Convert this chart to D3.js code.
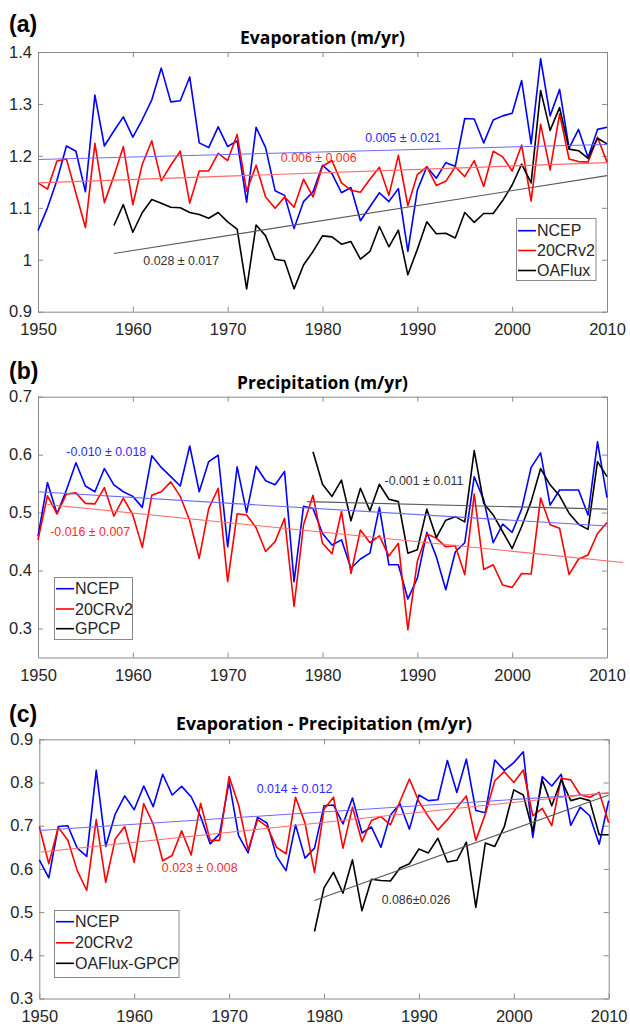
<!DOCTYPE html>
<html>
<head>
<meta charset="utf-8">
<script src="https://cdn.jsdelivr.net/npm/d3@7"></script>
<style>
  html, body { margin: 0; padding: 0; background: #fff; }
  svg { display: block; }
  .tick text { fill: #262626; }
</style>
</head>
<body>
<svg id="chart" width="630" height="1024"></svg>
<script>
// ---------------- DATA ----------------
const years = d3.range(1950, 2011);          // 1950..2010
const yearsOAFlux = d3.range(1958, 2011);    // 1958..2010
const yearsGPCP = d3.range(1979, 2011);      // 1979..2010
const xTicks = [1950, 1960, 1970, 1980, 1990, 2000, 2010];
const seriesNames = ["NCEP", "20CRv2"];

// (a) Evaporation (m/yr)
const evapNCEP = [1.056,1.10,1.153,1.219,1.209,1.131,1.317,1.219,1.248,1.275,
  1.236,1.27,1.308,1.369,1.304,1.306,1.352,1.225,1.216,1.256,
  1.218,1.229,1.111,1.255,1.216,1.133,1.124,1.06,1.112,1.131,
  1.182,1.166,1.129,1.139,1.075,1.102,1.129,1.112,1.137,1.016,
  1.134,1.179,1.157,1.187,1.18,1.272,1.271,1.225,1.269,1.277,
  1.282,1.345,1.223,1.387,1.277,1.328,1.215,1.251,1.197,1.251,1.255];
const evap20CR = [1.148,1.136,1.19,1.194,1.128,1.062,1.224,1.11,1.161,1.218,
  1.106,1.184,1.229,1.152,1.182,1.209,1.109,1.171,1.171,1.205,
  1.191,1.241,1.132,1.182,1.121,1.099,1.121,1.101,1.155,1.121,
  1.18,1.191,1.148,1.134,1.13,1.155,1.178,1.124,1.201,1.104,
  1.164,1.179,1.143,1.151,1.179,1.16,1.191,1.141,1.209,1.198,
  1.171,1.221,1.113,1.261,1.173,1.281,1.194,1.189,1.188,1.236,1.188];
const evapOAFlux = [1.066,1.106,1.053,1.091,1.116,1.109,1.101,1.1,1.091,1.087,
  1.08,1.091,1.073,1.059,0.944,1.067,1.046,1.001,0.998,0.944,
  0.99,1.016,1.046,1.044,1.03,1.035,1.001,1.016,1.064,1.025,
  1.057,0.971,1.02,1.073,1.05,1.051,1.042,1.091,1.072,1.089,
  1.089,1.114,1.144,1.184,1.148,1.326,1.249,1.293,1.213,1.21,
  1.195,1.234,1.223];
const evapTicks = [0.9, 1.0, 1.1, 1.2, 1.3, 1.4];
// trend lines: [startYear, startValue, endYear, endValue]
const evapTrendNCEP = [1950, 1.193, 2010, 1.222];
const evapTrend20CR = [1950, 1.148, 2010, 1.187];
const evapTrendOAFlux = [1958, 1.012, 2010, 1.162];
const evapTrendLabels = ["0.005 \u00b1 0.021", "0.006 \u00b1 0.006", "0.028 \u00b1 0.017"];

// (b) Precipitation (m/yr)
const precipNCEP = [0.459,0.552,0.498,0.539,0.586,0.546,0.536,0.576,0.548,0.536,
  0.528,0.509,0.598,0.578,0.562,0.546,0.615,0.536,0.588,0.599,
  0.441,0.579,0.5,0.58,0.555,0.548,0.571,0.381,0.511,0.507,
  0.464,0.444,0.453,0.404,0.42,0.43,0.509,0.41,0.41,0.351,
  0.387,0.466,0.424,0.367,0.432,0.448,0.562,0.522,0.448,0.48,
  0.466,0.506,0.578,0.603,0.513,0.539,0.539,0.539,0.496,0.622,0.526];
const precip20CR = [0.453,0.529,0.498,0.532,0.534,0.516,0.515,0.543,0.494,0.525,
  0.496,0.44,0.53,0.536,0.553,0.528,0.486,0.421,0.507,0.542,
  0.381,0.498,0.496,0.474,0.433,0.45,0.49,0.338,0.479,0.53,
  0.447,0.429,0.502,0.395,0.47,0.448,0.46,0.425,0.447,0.298,
  0.416,0.463,0.456,0.441,0.443,0.393,0.532,0.402,0.41,0.375,
  0.371,0.395,0.394,0.525,0.479,0.473,0.393,0.42,0.427,0.464,0.483];
const precipGPCP = [0.605,0.549,0.528,0.556,0.486,0.542,0.503,0.549,0.523,0.519,
  0.43,0.436,0.506,0.457,0.487,0.493,0.484,0.607,0.516,0.496,
  0.467,0.438,0.476,0.519,0.576,0.548,0.529,0.499,0.48,0.471,
  0.588,0.562];
const precipTicks = [0.3, 0.4, 0.5, 0.6, 0.7];
const precipTrendNCEP = [1950, 0.536, 2010, 0.477];
const precipTrend20CR = [1951, 0.514, 2011.7, 0.414];
const precipTrendGPCP = [1978.4, 0.519, 2010, 0.506];
const precipTrendLabels = ["-0.010 \u00b1 0.018", "-0.016 \u00b1 0.007", "-0.001 \u00b1 0.011"];

// (c) Evaporation - Precipitation (m/yr)
const empNCEP = [0.621,0.579,0.698,0.7,0.648,0.629,0.828,0.652,0.727,0.769,
  0.737,0.792,0.744,0.819,0.771,0.791,0.767,0.721,0.658,0.681,
  0.802,0.677,0.637,0.72,0.706,0.629,0.596,0.702,0.625,0.648,
  0.746,0.748,0.704,0.764,0.683,0.697,0.65,0.725,0.751,0.692,
  0.771,0.758,0.76,0.851,0.777,0.854,0.735,0.73,0.852,0.828,
  0.846,0.871,0.673,0.814,0.792,0.819,0.701,0.743,0.723,0.657,0.758];
const emp20CR = [0.698,0.612,0.696,0.667,0.596,0.55,0.714,0.569,0.669,0.698,
  0.615,0.751,0.704,0.619,0.631,0.688,0.632,0.752,0.666,0.666,
  0.814,0.748,0.644,0.714,0.698,0.65,0.635,0.766,0.706,0.592,
  0.738,0.766,0.648,0.743,0.663,0.712,0.721,0.702,0.756,0.808,
  0.756,0.721,0.69,0.714,0.742,0.769,0.666,0.727,0.804,0.825,
  0.8,0.829,0.723,0.74,0.7,0.81,0.806,0.771,0.766,0.777,0.707];
const empOAFluxGPCP = [0.455,0.556,0.592,0.544,0.621,0.503,0.576,0.573,0.572,0.602,
  0.612,0.646,0.637,0.671,0.616,0.62,0.662,0.511,0.66,0.652,
  0.698,0.783,0.771,0.687,0.806,0.746,0.806,0.758,0.764,0.758,
  0.679,0.679];
const empTicks = [0.3, 0.4, 0.5, 0.6, 0.7, 0.8, 0.9];
const empTrendNCEP = [1950, 0.689, 2010, 0.775];
const empTrend20CR = [1950.2, 0.639, 2010, 0.777];
const empTrendOAFluxGPCP = [1979, 0.527, 2010, 0.771];
const empTrendLabels = ["0.014 \u00b1 0.012", "0.023 \u00b1 0.008", "0.086\u00b10.026"];

// ---------------- STYLE / LAYOUT ----------------
const COLORS = { blue: "#0000ff", red: "#ff0000", black: "#000000" };
const TREND = { blue: "#6a6aff", red: "#ff6a6a", black: "#5a5a5a" };
const NOTE = { blue: "#2a2aff", red: "#ff2a2a", black: "#333333" };
const FONT = "'Liberation Sans', Arial, Helvetica, sans-serif";
const TITLEFONT = "'Open Sans', 'DejaVu Sans', sans-serif";

const svg = d3.select("#chart");

const panels = [
  {
    label: "(a)", labelY: 32, title: "Evaporation (m/yr)", titleY: 44, titleW: 165,
    x0: 38, x1: 607, yTop: 52, yBot: 311.7, domain: [0.9, 1.4], ticks: evapTicks,
    fmt: d => d === 1 ? "1" : d3.format(".1f")(d),
    series: [
      { yrs: years, vals: evapNCEP, c: "blue", name: seriesNames[0] },
      { yrs: years, vals: evap20CR, c: "red", name: seriesNames[1] },
      { yrs: yearsOAFlux, vals: evapOAFlux, c: "black", name: "OAFlux" }
    ],
    trends: [evapTrendNCEP, evapTrend20CR, evapTrendOAFlux],
    notes: [
      { t: evapTrendLabels[0], yr: 1988.5, v: 1.234, c: "blue" },
      { t: evapTrendLabels[1], yr: 1979.6, v: 1.196, c: "red" },
      { t: evapTrendLabels[2], yr: 1965.1, v: 0.998, c: "black" }
    ],
    legend: { x: 516.5, y: 218.5, w: 79.5, h: 62, rowY: [230.7, 250.5, 270.5] }
  },
  {
    label: "(b)", labelY: 379, title: "Precipitation (m/yr)", titleY: 388.5, titleW: 171,
    x0: 38, x1: 607, yTop: 396.7, yBot: 657.5, domain: [0.25, 0.7], ticks: precipTicks,
    fmt: d3.format(".1f"),
    series: [
      { yrs: years, vals: precipNCEP, c: "blue", name: seriesNames[0] },
      { yrs: years, vals: precip20CR, c: "red", name: seriesNames[1] },
      { yrs: yearsGPCP, vals: precipGPCP, c: "black", name: "GPCP" }
    ],
    trends: [precipTrendNCEP, precipTrend20CR, precipTrendGPCP],
    notes: [
      { t: precipTrendLabels[0], yr: 1957.2, v: 0.605, c: "blue" },
      { t: precipTrendLabels[1], yr: 1955.5, v: 0.467, c: "red" },
      { t: precipTrendLabels[2], yr: 1990.7, v: 0.555, c: "black" }
    ],
    legend: { x: 54.5, y: 577.5, w: 78, h: 62, rowY: [588.7, 609, 628.7] }
  },
  {
    label: "(c)", labelY: 721.5, title: "Evaporation - Precipitation (m/yr)", titleY: 730, titleW: 296,
    x0: 39.3, x1: 608.7, yTop: 739.3, yBot: 998.5, domain: [0.3, 0.9], ticks: empTicks,
    fmt: d3.format(".1f"),
    series: [
      { yrs: years, vals: empNCEP, c: "blue", name: seriesNames[0] },
      { yrs: years, vals: emp20CR, c: "red", name: seriesNames[1] },
      { yrs: yearsGPCP, vals: empOAFluxGPCP, c: "black", name: "OAFlux-GPCP" }
    ],
    trends: [empTrendNCEP, empTrend20CR, empTrendOAFluxGPCP],
    notes: [
      { t: empTrendLabels[0], yr: 1976.9, v: 0.785, c: "blue" },
      { t: empTrendLabels[1], yr: 1966.9, v: 0.603, c: "red" },
      { t: empTrendLabels[2], yr: 1989.7, v: 0.527, c: "black" }
    ],
    legend: { x: 54.5, y: 910.5, w: 124.5, h: 67, rowY: [921.7, 942.8, 963.3] }
  }
];

const trendColors = ["blue", "red", "black"];

panels.forEach(p => {
  const g = svg.append("g");
  const x = d3.scaleLinear().domain([1950, 2010]).range([p.x0, p.x1]);
  const y = d3.scaleLinear().domain(p.domain).range([p.yBot, p.yTop]);

  // panel label
  g.append("text").attr("x", 9).attr("y", p.labelY)
    .attr("font-family", FONT).attr("font-weight", "bold").attr("font-size", 23)
    .attr("fill", "#000").text(p.label);

  // title, scaled to the measured width
  const title = g.append("text").attr("x", (p.x0 + p.x1) / 2).attr("y", p.titleY)
    .attr("text-anchor", "middle").attr("font-family", TITLEFONT).attr("font-weight", "bold")
    .attr("font-size", 15).attr("fill", "#000").text(p.title);
  const tw = title.node().getComputedTextLength();
  if (tw > 0) title.attr("font-size", 15 * p.titleW / tw);

  // axes
  const axB = d3.axisBottom(x).tickValues(xTicks).tickFormat(d3.format("d"))
    .tickSizeInner(-5).tickSizeOuter(0).tickPadding(12);
  const axT = d3.axisTop(x).tickValues(xTicks).tickFormat("")
    .tickSizeInner(-5).tickSizeOuter(0);
  const axL = d3.axisLeft(y).tickValues(p.ticks).tickFormat(p.fmt)
    .tickSizeInner(-5).tickSizeOuter(0).tickPadding(6);
  const axR = d3.axisRight(y).tickValues(p.ticks).tickFormat("")
    .tickSizeInner(-5).tickSizeOuter(0);

  const styleAxis = sel => {
    sel.selectAll("path.domain").attr("stroke", "#8a8a8a").attr("stroke-width", 1);
    sel.selectAll(".tick line").attr("stroke", "#8a8a8a").attr("stroke-width", 1);
    sel.selectAll(".tick text").attr("font-family", FONT).attr("font-size", 16.5).attr("fill", "#262626");
    sel.attr("font-family", null).attr("font-size", null);
  };
  g.append("g").attr("transform", `translate(0,${p.yBot})`).call(axB).call(styleAxis);
  g.append("g").attr("transform", `translate(0,${p.yTop})`).call(axT).call(styleAxis);
  g.append("g").attr("transform", `translate(${p.x0},0)`).call(axL).call(styleAxis);
  g.append("g").attr("transform", `translate(${p.x1},0)`).call(axR).call(styleAxis);

  // data lines
  const line = d3.line().x(d => x(d[0])).y(d => y(d[1]));
  p.series.forEach(s => {
    const pts = s.yrs.map((yr, i) => [yr, s.vals[i]]);
    g.append("path").datum(pts).attr("d", line)
      .attr("fill", "none").attr("stroke", COLORS[s.c]).attr("stroke-width", 1.6)
      .attr("stroke-linejoin", "round");
  });

  // trend lines
  p.trends.forEach((t, i) => {
    g.append("line")
      .attr("x1", x(t[0])).attr("y1", y(t[1]))
      .attr("x2", x(t[2])).attr("y2", y(t[3]))
      .attr("stroke", TREND[trendColors[i]]).attr("stroke-width", 1.1);
  });

  // trend annotations
  p.notes.forEach(n => {
    g.append("text").attr("x", x(n.yr)).attr("y", y(n.v))
      .attr("text-anchor", "middle").attr("dominant-baseline", "central")
      .attr("font-family", FONT).attr("font-size", 12.4)
      .attr("fill", NOTE[n.c]).text(n.t);
  });

  // legend
  const L = p.legend;
  const lg = g.append("g");
  lg.append("rect").attr("x", L.x).attr("y", L.y).attr("width", L.w).attr("height", L.h)
    .attr("fill", "#fff").attr("stroke", "#8a8a8a").attr("stroke-width", 1);
  p.series.forEach((s, i) => {
    lg.append("line").attr("x1", L.x + 1.5).attr("x2", L.x + 19.5)
      .attr("y1", L.rowY[i]).attr("y2", L.rowY[i])
      .attr("stroke", COLORS[s.c]).attr("stroke-width", 1.6);
    lg.append("text").attr("x", L.x + 20.5).attr("y", L.rowY[i])
      .attr("dominant-baseline", "central")
      .attr("font-family", FONT).attr("font-size", 16).attr("fill", "#262626").text(s.name);
  });
});
</script>
</body>
</html>
